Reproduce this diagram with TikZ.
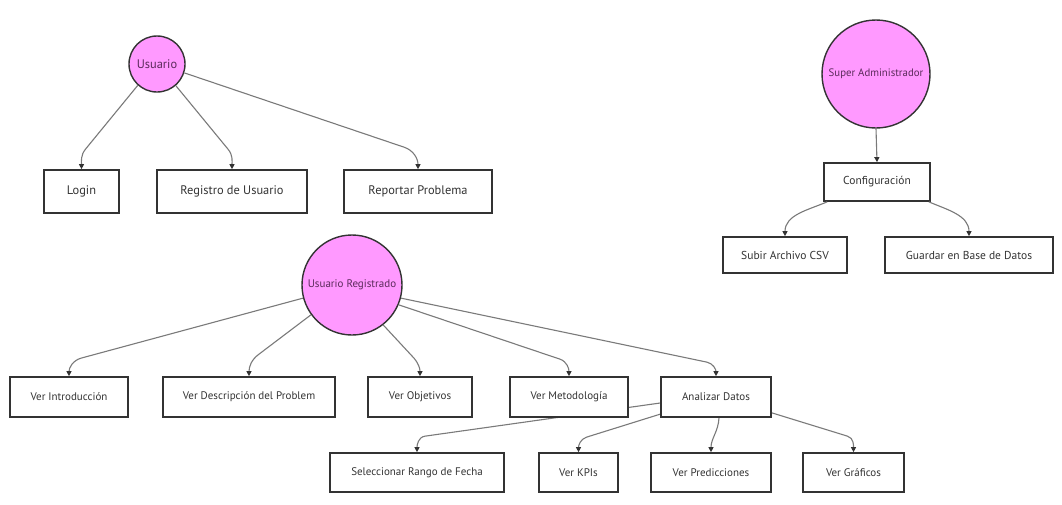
\documentclass[tikz,border=0pt]{standalone}
\usepackage{fontspec}
\setmainfont{PT Sans}
\usetikzlibrary{calc,arrows.meta}
\definecolor{ink}{HTML}{333333}
\definecolor{edge}{HTML}{7A7A7A}
\definecolor{actorfill}{HTML}{FF99FF}
\definecolor{actortext}{HTML}{5A2A5A}
\tikzset{
  x=1pt, y=1pt,
  every node/.style={font=\fontsize{11}{13}\selectfont, text=ink},
  bigtext/.style={font=\fontsize{12.4}{14}\selectfont},
  midtext/.style={font=\fontsize{11.5}{13}\selectfont},
  actor/.style={circle, draw=ink, line width=1.4pt, fill=actorfill, inner sep=0pt, text=actortext},
  usecase/.style={rectangle, draw=ink, line width=1.7pt, fill=white, inner sep=0pt},
  slot/.style={usecase, draw=none, fill=none},
  link/.style={draw=edge, line width=1.1pt, -{Triangle[length=5pt,width=5pt,fill=ink,color=ink]}},
}
\begin{document}
\begin{tikzpicture}
\useasboundingbox[fill=white] (0,0) rectangle (1062,-504);

% actors
\node[actor, bigtext, minimum size=56] (u) at (157,-64) {Usuario};
\node[actor, font=\fontsize{10.8}{13}\selectfont, minimum size=108] (sa) at (876,-74) {Super Administrador};
\node[actor, minimum size=100] (ur) at (352,-285) {Usuario Registrado};

% visitor use cases
\node[usecase, bigtext, minimum width=75, minimum height=43] (login) at (81.5,-191.5) {Login};
\node[usecase, bigtext, minimum width=150, minimum height=43] (reg) at (232,-191.5) {Registro de Usuario};
\node[usecase, bigtext, minimum width=148, minimum height=43] (rep) at (418,-191.5) {Reportar Problema};

% administrator use cases
\node[usecase, midtext, minimum width=106, minimum height=38] (conf) at (877,-182) {Configuración};
\node[usecase, midtext, minimum width=124, minimum height=36] (subir) at (785,-255) {Subir Archivo CSV};
\node[usecase, midtext, minimum width=168, minimum height=36] (guardar) at (969,-255) {Guardar en Base de Datos};

\draw[link] (u.228) -- ($(login.north)+(4,20)$) to[out=231,in=90] (login.north);
\draw[link] (u.311) -- ($(reg.north)+(-4,20)$) to[out=310,in=90] (reg.north);
\draw[link] (u.342) -- ($(rep.north)+(-14,22)$) to[out=342,in=90] (rep.north);

\draw[link] (sa.south) -- (conf.north);
\draw[link] ($(conf.south west)+(4,0)$) to[out=203,in=90] (subir.north);
\draw[link] ($(conf.south east)+(-2,0)$) to[out=-23,in=90] (guardar.north);

% registered user: box positions
\path
  (69,-397) coordinate (intro0)
  (249,-397) coordinate (desc0)
  (420,-397) coordinate (obj0)
  (569,-397) coordinate (met0)
  (716,-397) coordinate (ana0)
  (417,-472.5) coordinate (sel0)
  (578.5,-472.5) coordinate (kpi0)
  (711,-472.5) coordinate (pred0)
  (853.5,-472.5) coordinate (graf0);

% invisible outlines used as connector ends
\path
  node[slot, minimum width=118, minimum height=40] (intro) at (intro0) {}
  node[slot, minimum width=172, minimum height=40] (desc) at (desc0) {}
  node[slot, minimum width=104, minimum height=40] (obj) at (obj0) {}
  node[slot, minimum width=118, minimum height=40] (met) at (met0) {}
  node[slot, minimum width=110, minimum height=40] (ana) at (ana0) {}
  node[slot, minimum width=174, minimum height=39] (sel) at (sel0) {}
  node[slot, minimum width=79, minimum height=39] (kpi) at (kpi0) {}
  node[slot, minimum width=120, minimum height=39] (pred) at (pred0) {}
  node[slot, minimum width=101, minimum height=39] (graf) at (graf0) {};

\draw[link] (ur.195) -- ($(intro.north)+(12,18)$) to[out=196,in=90] (intro.north);
\draw[link] (ur.216) -- ($(desc.north)+(10,22)$) to[out=216,in=90] (desc.north);
\draw[link] (ur.308) -- ($(obj.north)+(-6,18)$) to[out=310,in=90] (obj.north);
\draw[link] (ur.337) -- ($(met.north)+(-9,17)$) to[out=340,in=90] (met.north);
\draw[link] (ur.345) -- ($(ana.north)+(-9,14)$) to[out=348,in=90] (ana.north);

\draw[link] ($(ana.west)+(0,-6)$) -- ($(sel.north)+(8,16)$) to[out=188,in=90] (sel.north);
\draw[link] ($(ana.south west)+(1,4)$) -- ($(kpi.north)+(8,15)$) to[out=198,in=90] (kpi.north);
\draw[link] ($(ana.south)+(3,0)$) to[out=-93,in=90] (pred.north);
\draw[link] ($(ana.south east)+(0,5)$) -- ($(graf.north)+(-6,16)$) to[out=-17,in=90] (graf.north);

% boxes drawn over the connectors
\node[usecase, minimum width=118, minimum height=40] at (intro0) {Ver Introducción};
\node[usecase, minimum width=172, minimum height=40] at (desc0) {Ver Descripción del Problem};
\node[usecase, minimum width=104, minimum height=40] at (obj0) {Ver Objetivos};
\node[usecase, minimum width=118, minimum height=40] at (met0) {Ver Metodología};
\node[usecase, minimum width=110, minimum height=40] at (ana0) {Analizar Datos};
\node[usecase, minimum width=174, minimum height=39] at (sel0) {Seleccionar Rango de Fecha};
\node[usecase, minimum width=79, minimum height=39] at (kpi0) {Ver KPIs};
\node[usecase, minimum width=120, minimum height=39] at (pred0) {Ver Predicciones};
\node[usecase, minimum width=101, minimum height=39] at (graf0) {Ver Gráficos};
\end{tikzpicture}
\end{document}
